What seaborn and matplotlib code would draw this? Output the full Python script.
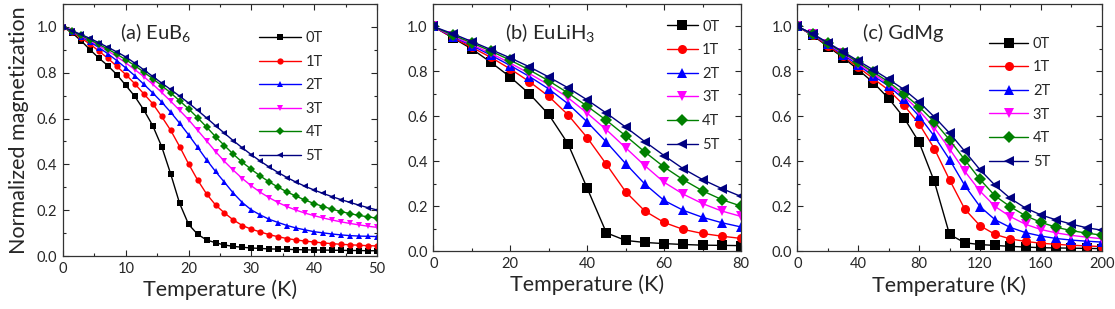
import pandas as pd
import seaborn as sns
import matplotlib.pyplot as plt
from matplotlib.ticker import MultipleLocator

fields = ['0T', '1T', '2T', '3T', '4T', '5T']
colors = ['black', 'red', 'blue', 'magenta', 'green', 'navy']
markers = ['s', 'o', '^', 'v', 'D', '<']

# (a) EuB6
temp_a = [0, 1.43, 2.86, 4.29, 5.71, 7.14, 8.57, 10.0, 11.43, 12.86, 14.29, 15.71,
          17.14, 18.57, 20.0, 21.43, 22.86, 24.29, 25.71, 27.14, 28.57, 30.0, 31.43,
          32.86, 34.29, 35.71, 37.14, 38.57, 40.0, 41.43, 42.86, 44.29, 45.71, 47.14,
          48.57, 50.0]
eub6_0T = [1.0, 0.975, 0.940, 0.901, 0.864, 0.831, 0.792, 0.745, 0.697, 0.638, 0.569, 0.478,
           0.359, 0.230, 0.138, 0.095, 0.070, 0.058, 0.048, 0.042, 0.038, 0.035, 0.033,
           0.031, 0.030, 0.029, 0.028, 0.027, 0.026, 0.026, 0.025, 0.025, 0.024, 0.024,
           0.023, 0.023]
eub6_1T = [1.0, 0.977, 0.952, 0.925, 0.895, 0.863, 0.828, 0.792, 0.752, 0.708, 0.665, 0.609,
           0.549, 0.478, 0.402, 0.332, 0.271, 0.223, 0.188, 0.157, 0.133, 0.117, 0.105,
           0.093, 0.084, 0.076, 0.070, 0.065, 0.061, 0.057, 0.054, 0.051, 0.049, 0.047,
           0.045, 0.044]
eub6_2T = [1.0, 0.98, 0.958, 0.935, 0.91, 0.883, 0.853, 0.821, 0.787, 0.75, 0.712, 0.672,
           0.628, 0.58, 0.529, 0.475, 0.42, 0.369, 0.322, 0.274, 0.233, 0.201, 0.179,
           0.16, 0.146, 0.133, 0.122, 0.114, 0.106, 0.101, 0.096, 0.092, 0.089, 0.087,
           0.086, 0.085]
eub6_3T = [1.0, 0.981, 0.961, 0.94, 0.918, 0.895, 0.87, 0.843, 0.814, 0.783, 0.75, 0.714,
           0.676, 0.636, 0.595, 0.549, 0.503, 0.456, 0.413, 0.374, 0.338, 0.306, 0.278,
           0.254, 0.233, 0.215, 0.2, 0.187, 0.176, 0.166, 0.157, 0.149, 0.142, 0.136,
           0.13, 0.125]
eub6_4T = [1.0, 0.982, 0.963, 0.944, 0.924, 0.903, 0.881, 0.857, 0.831, 0.803, 0.774, 0.744,
           0.712, 0.678, 0.642, 0.604, 0.563, 0.521, 0.482, 0.444, 0.409, 0.378, 0.349,
           0.323, 0.30, 0.279, 0.261, 0.244, 0.229, 0.216, 0.204, 0.194, 0.185, 0.177,
           0.171, 0.165]
eub6_5T = [1.0, 0.984, 0.967, 0.95, 0.931, 0.911, 0.891, 0.869, 0.842, 0.813, 0.784, 0.755,
           0.727, 0.698, 0.668, 0.636, 0.603, 0.569, 0.536, 0.503, 0.472, 0.442, 0.414,
           0.388, 0.364, 0.342, 0.322, 0.304, 0.288, 0.273, 0.259, 0.246, 0.234, 0.222,
           0.211, 0.201]

# (b) EuLiH3
temp_b = [0, 5, 10, 15, 20, 25, 30, 35, 40, 45, 50, 55, 60, 65, 70, 75, 80]
eulih3_0T = [1.0, 0.95, 0.90, 0.84, 0.775, 0.70, 0.608, 0.478, 0.28, 0.081, 0.047, 0.038,
             0.033, 0.029, 0.026, 0.025, 0.024]
eulih3_1T = [1.0, 0.951, 0.907, 0.862, 0.811, 0.754, 0.689, 0.607, 0.505, 0.386, 0.264, 0.178,
             0.127, 0.096, 0.078, 0.066, 0.056]
eulih3_2T = [1.0, 0.955, 0.915, 0.872, 0.826, 0.777, 0.722, 0.656, 0.575, 0.485, 0.389, 0.298,
             0.225, 0.181, 0.15, 0.126, 0.107]
eulih3_3T = [1.0, 0.958, 0.92, 0.88, 0.837, 0.79, 0.74, 0.683, 0.614, 0.54, 0.46, 0.38,
             0.306, 0.253, 0.211, 0.178, 0.154]
eulih3_4T = [1.0, 0.962, 0.927, 0.89, 0.85, 0.806, 0.758, 0.704, 0.645, 0.582, 0.513, 0.441,
             0.374, 0.317, 0.268, 0.229, 0.20]
eulih3_5T = [1.0, 0.968, 0.933, 0.897, 0.86, 0.82, 0.775, 0.727, 0.673, 0.614, 0.552, 0.487,
             0.425, 0.366, 0.318, 0.278, 0.243]

# (c) GdMg
temp_c = [0, 10, 20, 30, 40, 50, 60, 70, 80, 90, 100, 110, 120, 130, 140, 150, 160, 170,
          180, 190, 200]
gdmg_0T = [1.0, 0.961, 0.911, 0.862, 0.808, 0.75, 0.68, 0.595, 0.485, 0.311, 0.075, 0.038,
           0.03, 0.026, 0.022, 0.019, 0.016, 0.015, 0.014, 0.013, 0.012]
gdmg_1T = [1.0, 0.963, 0.915, 0.868, 0.818, 0.768, 0.717, 0.65, 0.567, 0.457, 0.318, 0.188,
           0.114, 0.075, 0.055, 0.044, 0.036, 0.031, 0.027, 0.024, 0.021]
gdmg_2T = [1.0, 0.965, 0.92, 0.875, 0.828, 0.78, 0.735, 0.676, 0.601, 0.512, 0.408, 0.293,
           0.199, 0.14, 0.106, 0.083, 0.068, 0.057, 0.05, 0.045, 0.041]
gdmg_3T = [1.0, 0.966, 0.923, 0.88, 0.835, 0.79, 0.743, 0.69, 0.626, 0.549, 0.456, 0.356,
           0.268, 0.199, 0.154, 0.12, 0.097, 0.082, 0.071, 0.063, 0.056]
gdmg_4T = [1.0, 0.967, 0.925, 0.884, 0.84, 0.797, 0.753, 0.70, 0.643, 0.576, 0.496, 0.407,
           0.32, 0.246, 0.198, 0.158, 0.129, 0.107, 0.092, 0.081, 0.072]
gdmg_5T = [1.0, 0.968, 0.928, 0.888, 0.847, 0.807, 0.765, 0.72, 0.664, 0.598, 0.526, 0.445,
           0.363, 0.293, 0.235, 0.192, 0.162, 0.14, 0.121, 0.105, 0.094]


def to_frame(temps, curves):
    rows = []
    for field, vals in zip(fields, curves):
        for t, m in zip(temps, vals):
            rows.append((t, m, field))
    return pd.DataFrame(rows, columns=['T', 'M', 'field'])


def draw_panel(ax, df, ms, xmax, xmajor, label, label_pos, leg_pos, handlelen):
    sns.lineplot(data=df, x='T', y='M', hue='field', style='field',
                 palette=dict(zip(fields, colors)), markers=dict(zip(fields, markers)),
                 dashes=False, markersize=ms, markeredgewidth=0, linewidth=1.0,
                 errorbar=None, sort=False, ax=ax)
    ax.set_xlim(0, xmax)
    ax.set_ylim(0, 1.1)
    ax.xaxis.set_major_locator(MultipleLocator(xmajor))
    ax.xaxis.set_minor_locator(MultipleLocator(xmajor / 2))
    ax.yaxis.set_major_locator(MultipleLocator(0.2))
    ax.yaxis.set_minor_locator(MultipleLocator(0.1))
    ax.yaxis.set_major_formatter('{x:.1f}')
    ax.tick_params(which='both', direction='in', top=True, right=True, labelsize=10.5, width=0.8)
    ax.tick_params(which='major', length=4, pad=4)
    ax.tick_params(which='minor', length=2.5)
    for sp in ax.spines.values():
        sp.set_linewidth(0.9)
        sp.set_color('#333333')
    ax.set_xlabel('Temperature (K)', fontsize=15.5, labelpad=3)
    ax.set_ylabel('')
    ax.text(label_pos[0], label_pos[1], label, transform=ax.transAxes,
            fontsize=14.5, va='center', ha='left')
    old = ax.get_legend()
    handles = old.legend_handles
    labels = [t.get_text() for t in old.get_texts()]
    ax.legend(handles, labels, loc='upper left', bbox_to_anchor=leg_pos, frameon=False,
              fontsize=10.5, handlelength=handlelen, handletextpad=0.3,
              labelspacing=0.66, borderpad=0, borderaxespad=0)


sns.set_style('ticks')
plt.rcParams['font.family'] = ['Lato', 'DejaVu Sans']

fig = plt.figure(figsize=(11.15, 3.09), dpi=100)
ax_a = fig.add_axes([0.0565, 0.1715, 0.2816, 0.8155])
ax_b = fig.add_axes([0.3886, 0.1877, 0.2760, 0.7993])
ax_c = fig.add_axes([0.7151, 0.1867, 0.2730, 0.8003])

df_a = to_frame(temp_a, [eub6_0T, eub6_1T, eub6_2T, eub6_3T, eub6_4T, eub6_5T])
df_b = to_frame(temp_b, [eulih3_0T, eulih3_1T, eulih3_2T, eulih3_3T, eulih3_4T, eulih3_5T])
df_c = to_frame(temp_c, [gdmg_0T, gdmg_1T, gdmg_2T, gdmg_3T, gdmg_4T, gdmg_5T])

draw_panel(ax_a, df_a, 4.5, 50, 10, '(a) EuB$\\mathregular{_6}$', (0.18, 0.885), (0.624, 0.893), 2.9)
draw_panel(ax_b, df_b, 6.5, 80, 20, '(b) EuLiH$\\mathregular{_3}$', (0.233, 0.883), (0.76, 0.937), 2.1)
draw_panel(ax_c, df_c, 6.5, 200, 40, '(c) GdMg', (0.215, 0.881), (0.63, 0.868), 2.7)

ax_a.set_ylabel('Normalized magnetization', fontsize=15.5, labelpad=6)

fig.savefig('out.png', dpi=100)
